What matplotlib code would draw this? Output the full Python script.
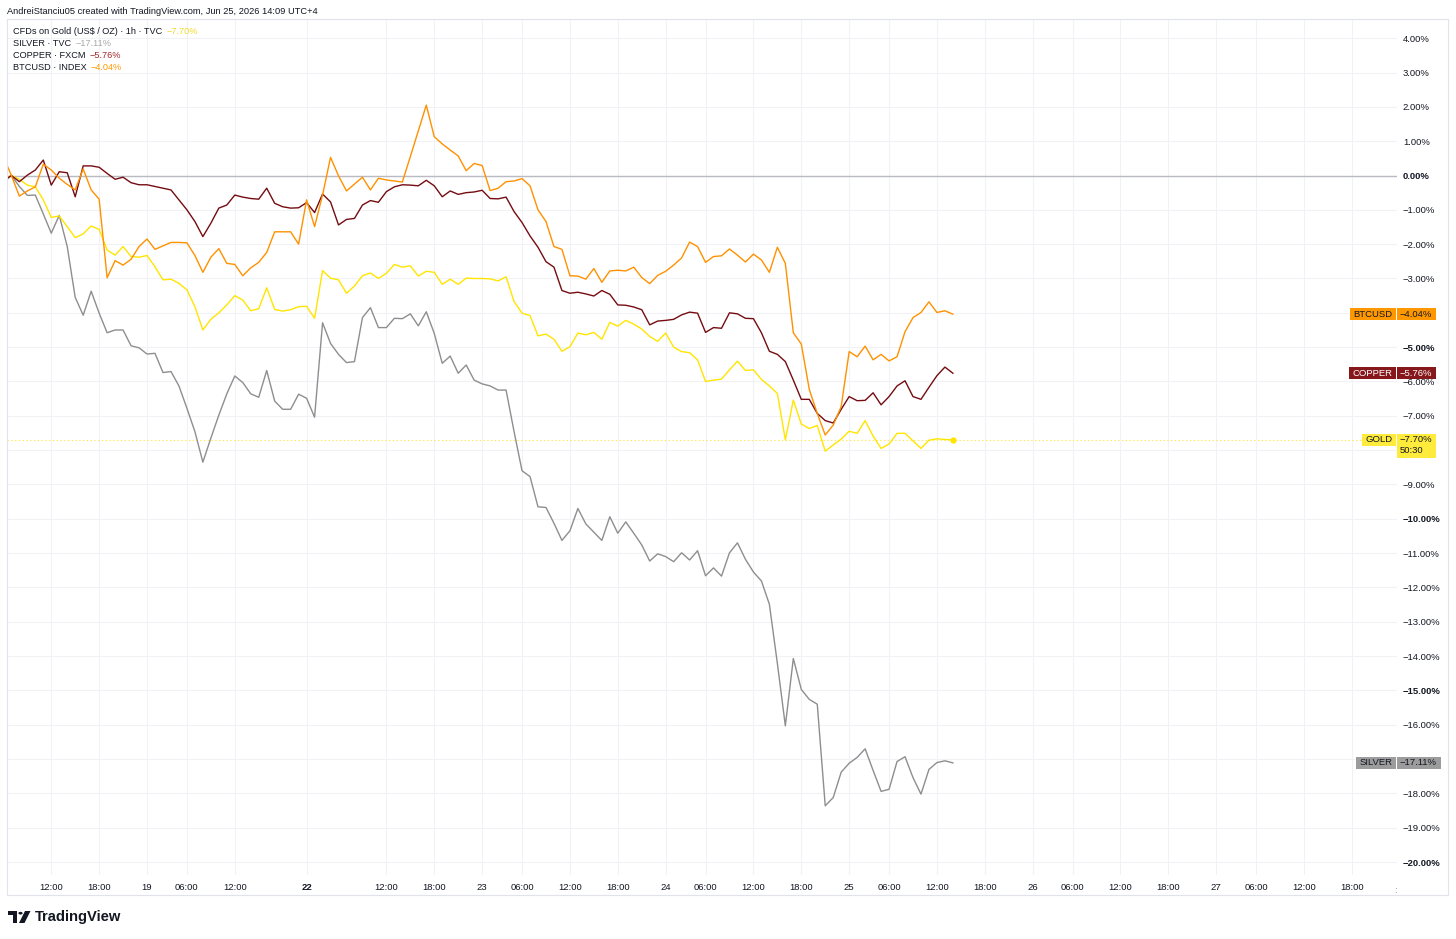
import matplotlib
matplotlib.use("Agg")
import matplotlib.pyplot as plt
from matplotlib.patches import Rectangle, Circle, Polygon
from matplotlib.transforms import blended_transform_factory

plt.rcParams['font.family'] = ['Liberation Sans', 'DejaVu Sans']

# ---------------- data (percent change, hourly bars) ----------------
gold = [-0.10, 0.00, -0.11, -0.28, -0.33, -0.71, -1.22, -1.18, -1.49, -1.81,
        -1.70, -1.47, -1.57, -2.17, -2.32, -2.07, -2.36, -2.38, -2.33, -2.66,
        -3.04, -3.02, -3.14, -3.33, -3.82, -4.50, -4.19, -4.00, -3.77, -3.50,
        -3.63, -3.94, -3.88, -3.27, -3.90, -3.95, -3.91, -3.82, -3.81, -4.16,
        -2.77, -2.99, -3.04, -3.43, -3.22, -2.92, -2.84, -3.00, -2.85, -2.59,
        -2.67, -2.63, -2.93, -2.79, -2.82, -3.17, -3.02, -3.17, -2.99, -3.00,
        -3.00, -3.01, -3.07, -2.95, -3.67, -4.01, -4.08, -4.67, -4.62, -4.77,
        -5.12, -4.99, -4.59, -4.64, -4.57, -4.77, -4.28, -4.39, -4.22, -4.33,
        -4.47, -4.69, -4.83, -4.59, -5.00, -5.13, -5.16, -5.37, -6.00, -5.96,
        -5.93, -5.66, -5.41, -5.68, -5.66, -5.94, -6.13, -6.35, -7.70, -6.54,
        -7.24, -7.37, -7.28, -8.03, -7.85, -7.68, -7.45, -7.51, -7.14, -7.59,
        -7.95, -7.82, -7.51, -7.51, -7.73, -7.95, -7.71, -7.67, -7.69, -7.70]

silver = [-0.20, 0.00, -0.32, -0.58, -0.57, -1.12, -1.68, -1.16, -2.07, -3.55,
          -4.07, -3.37, -4.01, -4.58, -4.50, -4.50, -4.96, -5.02, -5.20, -5.18,
          -5.74, -5.71, -6.13, -6.78, -7.46, -8.35, -7.65, -6.98, -6.36, -5.84,
          -6.03, -6.36, -6.46, -5.68, -6.57, -6.81, -6.81, -6.37, -6.49, -7.04,
          -4.29, -4.89, -5.21, -5.45, -5.42, -4.14, -3.85, -4.43, -4.43, -4.16,
          -4.17, -4.03, -4.38, -3.97, -4.60, -5.47, -5.26, -5.76, -5.52, -5.96,
          -6.07, -6.13, -6.25, -6.25, -7.46, -8.60, -8.77, -9.65, -9.67, -10.13,
          -10.63, -10.35, -9.70, -10.15, -10.39, -10.63, -9.94, -10.42, -10.09, -10.42,
          -10.76, -11.23, -11.02, -11.10, -11.25, -10.99, -11.20, -10.93, -11.66, -11.43,
          -11.67, -10.99, -10.70, -11.18, -11.55, -11.81, -12.49, -14.21, -16.03, -14.07,
          -14.97, -15.26, -15.40, -18.36, -18.12, -17.38, -17.12, -16.95, -16.70, -17.33,
          -17.94, -17.88, -17.07, -16.93, -17.54, -18.02, -17.30, -17.10, -17.05, -17.11]

copper = [-0.15, 0.00, -0.18, 0.01, 0.16, 0.45, -0.28, 0.11, 0.08, -0.62,
          0.28, 0.28, 0.24, 0.06, -0.11, -0.05, -0.21, -0.27, -0.27, -0.32,
          -0.37, -0.42, -0.71, -1.00, -1.34, -1.78, -1.39, -0.95, -0.86, -0.57,
          -0.63, -0.67, -0.69, -0.37, -0.81, -0.91, -0.95, -0.94, -0.79, -1.08,
          -0.54, -0.77, -1.44, -1.28, -1.25, -0.86, -0.73, -0.78, -0.47, -0.33,
          -0.27, -0.28, -0.30, -0.14, -0.30, -0.62, -0.45, -0.55, -0.50, -0.48,
          -0.43, -0.67, -0.68, -0.63, -1.05, -1.37, -1.76, -2.09, -2.51, -2.67,
          -3.35, -3.43, -3.40, -3.45, -3.51, -3.35, -3.46, -3.77, -3.78, -3.83,
          -3.91, -4.35, -4.24, -4.22, -4.19, -4.06, -3.98, -4.01, -4.57, -4.43,
          -4.45, -4.00, -4.03, -4.16, -4.17, -4.58, -5.12, -5.21, -5.42, -5.96,
          -6.52, -6.52, -6.93, -7.14, -7.21, -6.81, -6.44, -6.56, -6.55, -6.33,
          -6.68, -6.44, -6.13, -5.98, -6.44, -6.52, -6.17, -5.83, -5.58, -5.76]

btcusd = [0.55, 0.00, -0.60, -0.45, -0.33, 0.33, 0.16, -0.08, -0.26, -0.42,
          0.19, -0.42, -0.69, -2.98, -2.48, -2.61, -2.44, -2.07, -1.85, -2.15,
          -2.05, -1.95, -1.95, -1.96, -2.33, -2.82, -2.38, -2.13, -2.56, -2.59,
          -2.92, -2.69, -2.53, -2.24, -1.64, -1.64, -1.64, -2.00, -0.71, -1.49,
          -0.57, 0.53, -0.01, -0.45, -0.25, -0.05, -0.42, -0.08, -0.13, -0.16,
          -0.19, 0.55, 1.30, 2.05, 1.13, 0.92, 0.74, 0.57, 0.14, 0.35,
          0.29, -0.44, -0.37, -0.18, -0.16, -0.09, -0.30, -1.00, -1.34, -2.07,
          -2.15, -2.92, -2.93, -3.02, -2.71, -3.11, -2.78, -2.76, -2.78, -2.67,
          -2.97, -3.15, -2.91, -2.79, -2.61, -2.40, -1.94, -2.07, -2.53, -2.36,
          -2.34, -2.14, -2.32, -2.52, -2.29, -2.46, -2.82, -2.09, -2.56, -4.58,
          -4.91, -6.23, -6.93, -7.56, -7.27, -6.73, -5.13, -5.28, -4.97, -5.37,
          -5.21, -5.40, -5.28, -4.55, -4.14, -3.99, -3.68, -3.99, -3.94, -4.04]

bars = list(range(len(gold)))

x_tick_pos = [6, 12, 18, 23, 29, 38, 48, 54, 60, 65, 71, 77, 83, 88, 94, 100,
              106, 111, 117, 123, 129, 134, 140, 146, 152, 157, 163, 169]
x_tick_labels = ["12:00", "18:00", "19", "06:00", "12:00", "22", "12:00", "18:00",
                 "23", "06:00", "12:00", "18:00", "24", "06:00", "12:00", "18:00",
                 "25", "06:00", "12:00", "18:00", "26", "06:00", "12:00", "18:00",
                 "27", "06:00", "12:00", "18:00"]
x_bold_labels = ["22"]
y_ticks = list(range(-20, 5))
y_hidden = [-4, -8]          # covered by the price-scale labels in the original

legend_names = ["CFDs on Gold (US$ / OZ) · 1h · TVC", "SILVER · TVC",
                "COPPER · FXCM", "BTCUSD · INDEX"]
short_names = ["GOLD", "SILVER", "COPPER", "BTCUSD"]
countdown = "50:30"
header = "AndreiStanciu05 created with TradingView.com, Jun 25, 2026 14:09 UTC+4"

# ---------------- styling ----------------
c_gold, c_silver, c_copper, c_btc = '#ffe500', '#8e8e8e', '#740c11', '#ff9100'
TXT = '#131722'
GRID = '#f0f2f5'

W, H = 1456, 939
fig = plt.figure(figsize=(W / 100, H / 100), dpi=100)
fig.patch.set_facecolor('white')

PX0, BAR = 3.4, 7.979
Y0, PPCT = 175.5, 34.33
L, R, T, B = 7, 1397, 19, 875

ax = fig.add_axes([L / W, 1 - B / H, (R - L) / W, (B - T) / H])
ax.set_xlim((L - PX0) / BAR, (R - PX0) / BAR)
ax.set_ylim((Y0 - B) / PPCT, (Y0 - T) / PPCT)
for s in ax.spines.values():
    s.set_visible(False)

for y in y_ticks:
    ax.axhline(y, color=GRID, lw=0.8, zorder=0)
for x in x_tick_pos:
    ax.axvline(x, color=GRID, lw=0.8, zorder=0)

ax.axhline(0, color='#b8bbc2', lw=1.0, zorder=1)
ax.axhline(gold[-1], color='#ffe94d', lw=0.8, ls=(0, (1.2, 2.2)), zorder=1)

ax.plot(bars, silver, color=c_silver, lw=1.0, zorder=3, solid_joinstyle='round')
ax.plot(bars, gold, color=c_gold, lw=1.0, zorder=3, solid_joinstyle='round')
ax.plot(bars, copper, color=c_copper, lw=1.0, zorder=4, solid_joinstyle='round')
ax.plot(bars, btcusd, color=c_btc, lw=1.0, zorder=4, solid_joinstyle='round')
ax.plot([bars[-1]], [gold[-1]], 'o', ms=3.5, color=c_gold, zorder=5)


def pct(v):
    s = f"{abs(v):.2f}%"
    return ("\u2212" + s) if v < 0 else s


ax.yaxis.tick_right()
ax.set_yticks(y_ticks)
ax.set_yticklabels(["" if v in y_hidden else pct(v) for v in y_ticks])
ax.tick_params(axis='y', length=0, pad=4.3, labelsize=6.8, labelcolor=TXT)
for lab, v in zip(ax.get_yticklabels(), y_ticks):
    lab.set_horizontalalignment('left')
    if v % 5 == 0:
        lab.set_fontweight('bold')

ax.set_xticks(x_tick_pos)
ax.set_xticklabels(x_tick_labels)
ax.tick_params(axis='x', length=0, pad=5.5, labelsize=6.8, labelcolor=TXT)
for lab in ax.get_xticklabels():
    if lab.get_text() in x_bold_labels:
        lab.set_fontweight('bold')
trans = blended_transform_factory(ax.transData, ax.transAxes)
ax.text(174.4, -0.013, ":", transform=trans, ha='center', va='top',
        fontsize=6.8, color='#9598a1')

# outer frame
fig.add_artist(Rectangle((7 / W, 1 - 895 / H), (1448 - 7) / W, (895 - 19) / H,
                         transform=fig.transFigure, fill=False, ec='#e0e3eb', lw=0.8))

# header
fig.text(7 / W, 1 - 11.5 / H, header, fontsize=6.7, color=TXT, ha='left', va='center')

renderer = fig.canvas.get_renderer()

# legend
leg_vals = [gold[-1], silver[-1], copper[-1], btcusd[-1]]
leg_cols = ['#f0dc2a', '#a8a8a8', '#a1282b', '#ff9800']
leg_y = [31.5, 43.5, 55.5, 67.5]
for name, val, col, yy in zip(legend_names, leg_vals, leg_cols, leg_y):
    t = fig.text(13 / W, 1 - yy / H, name, fontsize=6.6, color=TXT, ha='left', va='center')
    bb = t.get_window_extent(renderer)
    fig.text((bb.x1 + 4) / W, 1 - yy / H, pct(val), fontsize=6.6, color=col,
             ha='left', va='center')


# price-scale labels
def scale_label(name, val, face, tcol, extra=None):
    yc = Y0 - val * PPCT
    tn = fig.text(1392.5 / W, 1 - yc / H, name, fontsize=6.8, color=tcol,
                  ha='right', va='center', zorder=5)
    tv = fig.text(1400 / W, 1 - yc / H, pct(val), fontsize=6.8, color=tcol,
                  ha='left', va='center', zorder=5)
    bn = tn.get_window_extent(renderer)
    bv = tv.get_window_extent(renderer)
    x0n = bn.x0 - 3.5
    fig.add_artist(Rectangle((x0n / W, 1 - (yc + 6) / H), (1396 - x0n) / W, 12 / H,
                             transform=fig.transFigure, fc=face, ec='none', zorder=4))
    x1v = bv.x1 + 3.5
    hv = 12 if extra is None else 24
    fig.add_artist(Rectangle((1397 / W, 1 - (yc - 6 + hv) / H), (x1v - 1397) / W, hv / H,
                             transform=fig.transFigure, fc=face, ec='none', zorder=4))
    if extra is not None:
        fig.text(1400 / W, 1 - (yc + 11) / H, extra, fontsize=6.8, color=tcol,
                 ha='left', va='center', zorder=5)


scale_label(short_names[3], btcusd[-1], '#ff9800', TXT)
scale_label(short_names[2], copper[-1], '#86181c', 'white')
scale_label(short_names[0], gold[-1], '#ffeb3b', TXT, extra=countdown)
scale_label(short_names[1], silver[-1], '#9c9c9c', TXT)

# TradingView logo + wordmark
def px_xy(x, y):
    return (x / W, 1 - y / H)

fig.add_artist(Rectangle(px_xy(8, 915), 9 / W, 4 / H, transform=fig.transFigure,
                         fc=TXT, ec='none'))
fig.add_artist(Rectangle(px_xy(13, 923), 4 / W, 12 / H, transform=fig.transFigure,
                         fc=TXT, ec='none'))
fig.add_artist(Circle(px_xy(20.5, 913.2), 2.1 / W, transform=fig.transFigure,
                      fc=TXT, ec='none'))
fig.add_artist(Polygon([px_xy(25, 911), px_xy(30.5, 911), px_xy(24.5, 923), px_xy(19, 923)],
                       closed=True, transform=fig.transFigure, fc=TXT, ec='none'))
fig.text(35 / W, 1 - 917 / H, "TradingView", fontsize=10.6, fontweight='bold',
         color=TXT, ha='left', va='center')

fig.savefig("out.png", dpi=100, facecolor='white')
